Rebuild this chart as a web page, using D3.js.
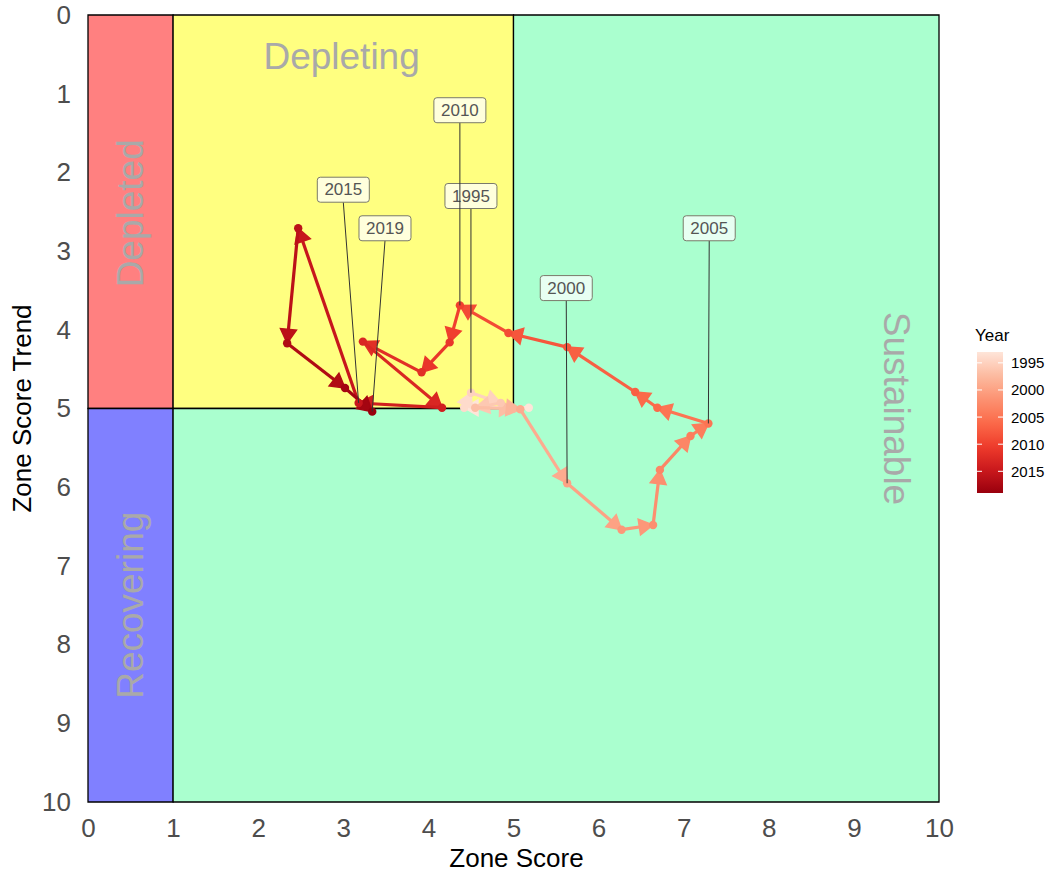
<!DOCTYPE html>
<html>
<head>
<meta charset="utf-8">
<script src="https://cdn.jsdelivr.net/npm/d3@7/dist/d3.min.js"></script>
<style>
  body { margin: 0; background: #fff; }
  svg text { font-family: "Liberation Sans", Arial, Helvetica, sans-serif; }
</style>
</head>
<body>
<svg id="chart" width="1051" height="877"></svg>
<script>
// Yearly trajectory of zone score vs. zone score trend
const years = [1993, 1994, 1995, 1996, 1997, 1998, 1999, 2000, 2001, 2002, 2003, 2004, 2005,
               2006, 2007, 2008, 2009, 2010, 2011, 2012, 2013, 2014, 2015, 2016, 2017, 2018, 2019];
const zoneScore = [5.18, 4.42, 4.50, 4.85, 4.55, 5.00, 5.08, 5.63, 6.27, 6.64, 6.72, 7.08, 7.29,
                   6.69, 6.43, 5.63, 4.94, 4.37, 4.25, 3.92, 3.23, 4.16, 3.18, 2.47, 2.34, 3.02, 3.34];
const zoneTrend = [4.99, 4.99, 4.80, 4.93, 4.99, 5.00, 5.01, 5.95, 6.54, 6.48, 5.78, 5.35, 5.19,
                   4.99, 4.79, 4.22, 4.04, 3.69, 4.16, 4.54, 4.15, 4.99, 4.93, 2.71, 4.17, 4.74, 5.04];

// Repelled year labels (label box centre in data units)
const labelYears = [1995, 2000, 2005, 2010, 2015, 2019];
const labelX = [4.50, 5.62, 7.30, 4.37, 3.00, 3.49];
const labelY = [2.30, 3.47, 2.71, 1.21, 2.22, 2.71];

// Zone regions
const zoneNames = ["Depleted", "Depleting", "Recovering", "Sustainable"];
const zoneFills = ["#FF8080", "#FFFF80", "#8080FF", "#AAFFCF"];
const zoneShapes = [
  [[0, 0], [1, 0], [1, 5], [0, 5]],
  [[1, 0], [5, 0], [5, 5], [1, 5]],
  [[0, 5], [1, 5], [1, 10], [0, 10]],
  [[5, 0], [10, 0], [10, 10], [1, 10], [1, 5], [5, 5]]
];
const zoneTextX = [0.5, 2.98, 0.5, 9.5];
const zoneTextY = [2.52, 0.53, 7.5, 5.0];
const zoneTextAngle = [-90, 0, -90, 90];

const xTicks = [0, 1, 2, 3, 4, 5, 6, 7, 8, 9, 10];
const yTicks = [0, 1, 2, 3, 4, 5, 6, 7, 8, 9, 10];
const legendTicks = [1995, 2000, 2005, 2010, 2015];

const svg = d3.select("#chart");
const x = d3.scaleLinear().domain([0, 10]).range([88, 939]);
const y = d3.scaleLinear().domain([0, 10]).range([15, 802]);

const reds = ["#fee5d9", "#fcbba1", "#fc9272", "#fb6a4a", "#ef3b2c", "#cb181d", "#99000d"];
const color = d3.scaleSequential(d3.piecewise(d3.interpolateLab, reds)).domain([1993, 2019]);

// zones
svg.append("g").selectAll("path").data(zoneShapes).join("path")
  .attr("d", pts => d3.line().x(p => x(p[0])).y(p => y(p[1]))(pts) + "Z")
  .attr("fill", (d, i) => zoneFills[i])
  .attr("stroke", "#000").attr("stroke-width", 1.3);

svg.append("g").selectAll("text").data(zoneNames).join("text")
  .attr("transform", (d, i) => `translate(${x(zoneTextX[i])},${y(zoneTextY[i])}) rotate(${zoneTextAngle[i]})`)
  .attr("text-anchor", "middle").attr("dominant-baseline", "central")
  .attr("font-size", 37).attr("fill", "#A9A9A9")
  .text(d => d);

// trajectory
const pts = years.map((yr, i) => ({ year: yr, px: x(zoneScore[i]), py: y(zoneTrend[i]) }));
const segs = d3.pairs(pts);
const gPath = svg.append("g");
const arrowLen = 16, arrowAng = Math.PI / 6;
segs.forEach(([a, b]) => {
  const c = color(a.year);
  gPath.append("line")
    .attr("x1", a.px).attr("y1", a.py).attr("x2", b.px).attr("y2", b.py)
    .attr("stroke", c).attr("stroke-width", 3.2);
  const ang = Math.atan2(b.py - a.py, b.px - a.px);
  const p1 = [b.px - arrowLen * Math.cos(ang - arrowAng), b.py - arrowLen * Math.sin(ang - arrowAng)];
  const p2 = [b.px - arrowLen * Math.cos(ang + arrowAng), b.py - arrowLen * Math.sin(ang + arrowAng)];
  gPath.append("path")
    .attr("d", `M${b.px},${b.py}L${p1[0]},${p1[1]}L${p2[0]},${p2[1]}Z`)
    .attr("fill", c).attr("stroke", c).attr("stroke-width", 1.5).attr("stroke-linejoin", "miter");
});
svg.append("g").selectAll("circle").data(pts).join("circle")
  .attr("cx", d => d.px).attr("cy", d => d.py).attr("r", 4.2)
  .attr("fill", d => color(d.year));

// year labels with leader segments
const gLab = svg.append("g");
labelYears.forEach((yr, i) => {
  const k = years.indexOf(yr);
  const lx = x(labelX[i]), ly = y(labelY[i]);
  const w = 52, h = 25;
  gLab.append("line")
    .attr("x1", lx).attr("y1", ly + h / 2).attr("x2", pts[k].px).attr("y2", pts[k].py)
    .attr("stroke", "#333").attr("stroke-width", 1);
  gLab.append("rect")
    .attr("x", lx - w / 2).attr("y", ly - h / 2).attr("width", w).attr("height", h)
    .attr("rx", 3).attr("fill", "rgba(255,255,255,0.72)")
    .attr("stroke", "#7a7a6a").attr("stroke-width", 1);
  gLab.append("text")
    .attr("x", lx).attr("y", ly).attr("text-anchor", "middle").attr("dominant-baseline", "central")
    .attr("font-size", 17).attr("fill", "#555").text(yr);
});

// axes
const xAxis = svg.append("g").attr("transform", "translate(0,802)")
  .call(d3.axisBottom(x).tickValues(xTicks).tickSize(0).tickPadding(17).tickFormat(d3.format("d")));
xAxis.select(".domain").remove();
xAxis.selectAll("text").attr("font-size", 26).attr("fill", "#4D4D4D")
  .attr("font-family", "Liberation Sans, Arial, sans-serif");

const yAxis = svg.append("g").attr("transform", "translate(88,0)")
  .call(d3.axisLeft(y).tickValues(yTicks).tickSize(0).tickPadding(17).tickFormat(d3.format("d")));
yAxis.select(".domain").remove();
yAxis.selectAll("text").attr("font-size", 26).attr("fill", "#4D4D4D")
  .attr("font-family", "Liberation Sans, Arial, sans-serif");

svg.append("text").attr("x", (x(0) + x(10)) / 2 + 3).attr("y", 867)
  .attr("text-anchor", "middle").attr("font-size", 26).attr("fill", "#000").text("Zone Score");
svg.append("text").attr("transform", `translate(31,${(y(0) + y(10)) / 2}) rotate(-90)`)
  .attr("text-anchor", "middle").attr("font-size", 26).attr("fill", "#000").text("Zone Score Trend");

// colour legend
const ly0 = 352, ly1 = 493, lx0 = 977, lw = 26;
const ly = d3.scaleLinear().domain([1993, 2019]).range([ly0, ly1]);
const grad = svg.append("defs").append("linearGradient").attr("id", "yearGrad")
  .attr("x1", 0).attr("y1", 0).attr("x2", 0).attr("y2", 1);
d3.range(0, 1.0001, 0.05).forEach(t => {
  grad.append("stop").attr("offset", t).attr("stop-color", color(1993 + t * 26));
});
svg.append("text").attr("x", 975).attr("y", 341).attr("font-size", 17).attr("fill", "#000").text("Year");
svg.append("rect").attr("x", lx0).attr("y", ly0).attr("width", lw).attr("height", ly1 - ly0)
  .attr("fill", "url(#yearGrad)");
const gLeg = svg.append("g");
legendTicks.forEach(t => {
  gLeg.append("line").attr("x1", lx0).attr("x2", lx0 + 5).attr("y1", ly(t)).attr("y2", ly(t))
    .attr("stroke", "#fff").attr("stroke-width", 1);
  gLeg.append("line").attr("x1", lx0 + lw - 5).attr("x2", lx0 + lw).attr("y1", ly(t)).attr("y2", ly(t))
    .attr("stroke", "#fff").attr("stroke-width", 1);
  gLeg.append("text").attr("x", 1011).attr("y", ly(t)).attr("dominant-baseline", "central")
    .attr("font-size", 15).attr("fill", "#000").text(t);
});
</script>
</body>
</html>
